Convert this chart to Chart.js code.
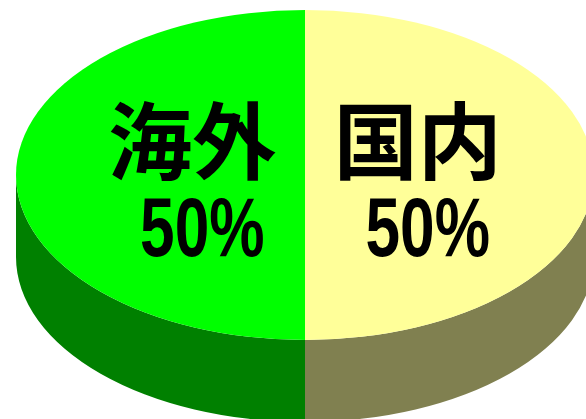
<!DOCTYPE html>
<html lang="ja">
<head>
<meta charset="utf-8">
<title>国内・海外</title>
<script src="https://cdn.jsdelivr.net/npm/chart.js@4/dist/chart.umd.min.js"></script>
<style>
  html, body { margin: 0; padding: 0; background: #fff; }
  #wrap { width: 586px; height: 419px; overflow: hidden; }
</style>
</head>
<body>
<div id="wrap"><canvas id="pie" width="586" height="419"></canvas></div>
<script>
// --- data ---
const labels     = ['国内', '海外'];
const shares     = [50, 50];
const topColors  = ['#FFFF99', '#00FF00'];
const sideColors = ['#808050', '#008000'];

// ellipse the flat pie is squashed onto (the chart itself stays a normal pie)
const G = { cx: 305, cy: 175, rx: 289, ry: 165, depth: 82 };

const total = shares.reduce((s, v) => s + v, 0);

const pie3d = {
  id: 'pie3d',
  beforeDatasetsDraw(chart) {
    const ctx  = chart.ctx;
    const arcs = chart.getDatasetMeta(0).data;
    if (!arcs.length) return;

    // side walls: only the front half (canvas angles 0..PI) is visible
    arcs.forEach((arc, i) => {
      const { startAngle, endAngle } = arc;
      [-2 * Math.PI, 0, 2 * Math.PI].forEach(off => {
        const a = Math.max(startAngle, off);
        const b = Math.min(endAngle, off + Math.PI);
        if (b <= a) return;
        ctx.beginPath();
        ctx.ellipse(G.cx, G.cy, G.rx, G.ry, 0, a - off, b - off);
        ctx.ellipse(G.cx, G.cy + G.depth, G.rx, G.ry, 0, b - off, a - off, true);
        ctx.closePath();
        ctx.fillStyle = sideColors[i];
        ctx.fill();
      });
    });

    // squash the top face
    const { x, y, outerRadius: R } = arcs[0];
    ctx.save();
    ctx.translate(G.cx, G.cy);
    ctx.scale(G.rx / R, G.ry / R);
    ctx.translate(-x, -y);
  },
  afterDatasetsDraw(chart) {
    const ctx = chart.ctx;
    ctx.restore();

    const arcs = chart.getDatasetMeta(0).data;
    arcs.forEach((arc, i) => {
      const mid = (arc.startAngle + arc.endAngle) / 2;
      const tx  = G.cx + Math.cos(mid) * G.rx * 0.39;
      const ty  = G.cy + Math.sin(mid) * G.ry * 0.39;

      ctx.save();
      ctx.fillStyle = '#000';
      ctx.textAlign = 'center';
      ctx.textBaseline = 'alphabetic';
      ctx.font = 'bold 84px "Noto Sans CJK JP"';
      ctx.fillText(labels[i], tx, ty - 2);

      const pct = Math.round(shares[i] / total * 100) + '%';
      ctx.translate(tx + 10, ty + 81);
      ctx.scale(0.74, 1);
      ctx.font = 'bold 84px "Liberation Sans"';
      ctx.fillText(pct, 0, 0);
      ctx.restore();
    });
  }
};

new Chart(document.getElementById('pie'), {
  type: 'pie',
  data: {
    labels,
    datasets: [{
      data: shares,
      backgroundColor: topColors,
      borderWidth: 0
    }]
  },
  options: {
    responsive: false,
    animation: false,
    events: [],
    layout: { padding: 0 },
    plugins: {
      legend: { display: false },
      tooltip: { enabled: false }
    }
  },
  plugins: [pie3d]
});
</script>
</body>
</html>
